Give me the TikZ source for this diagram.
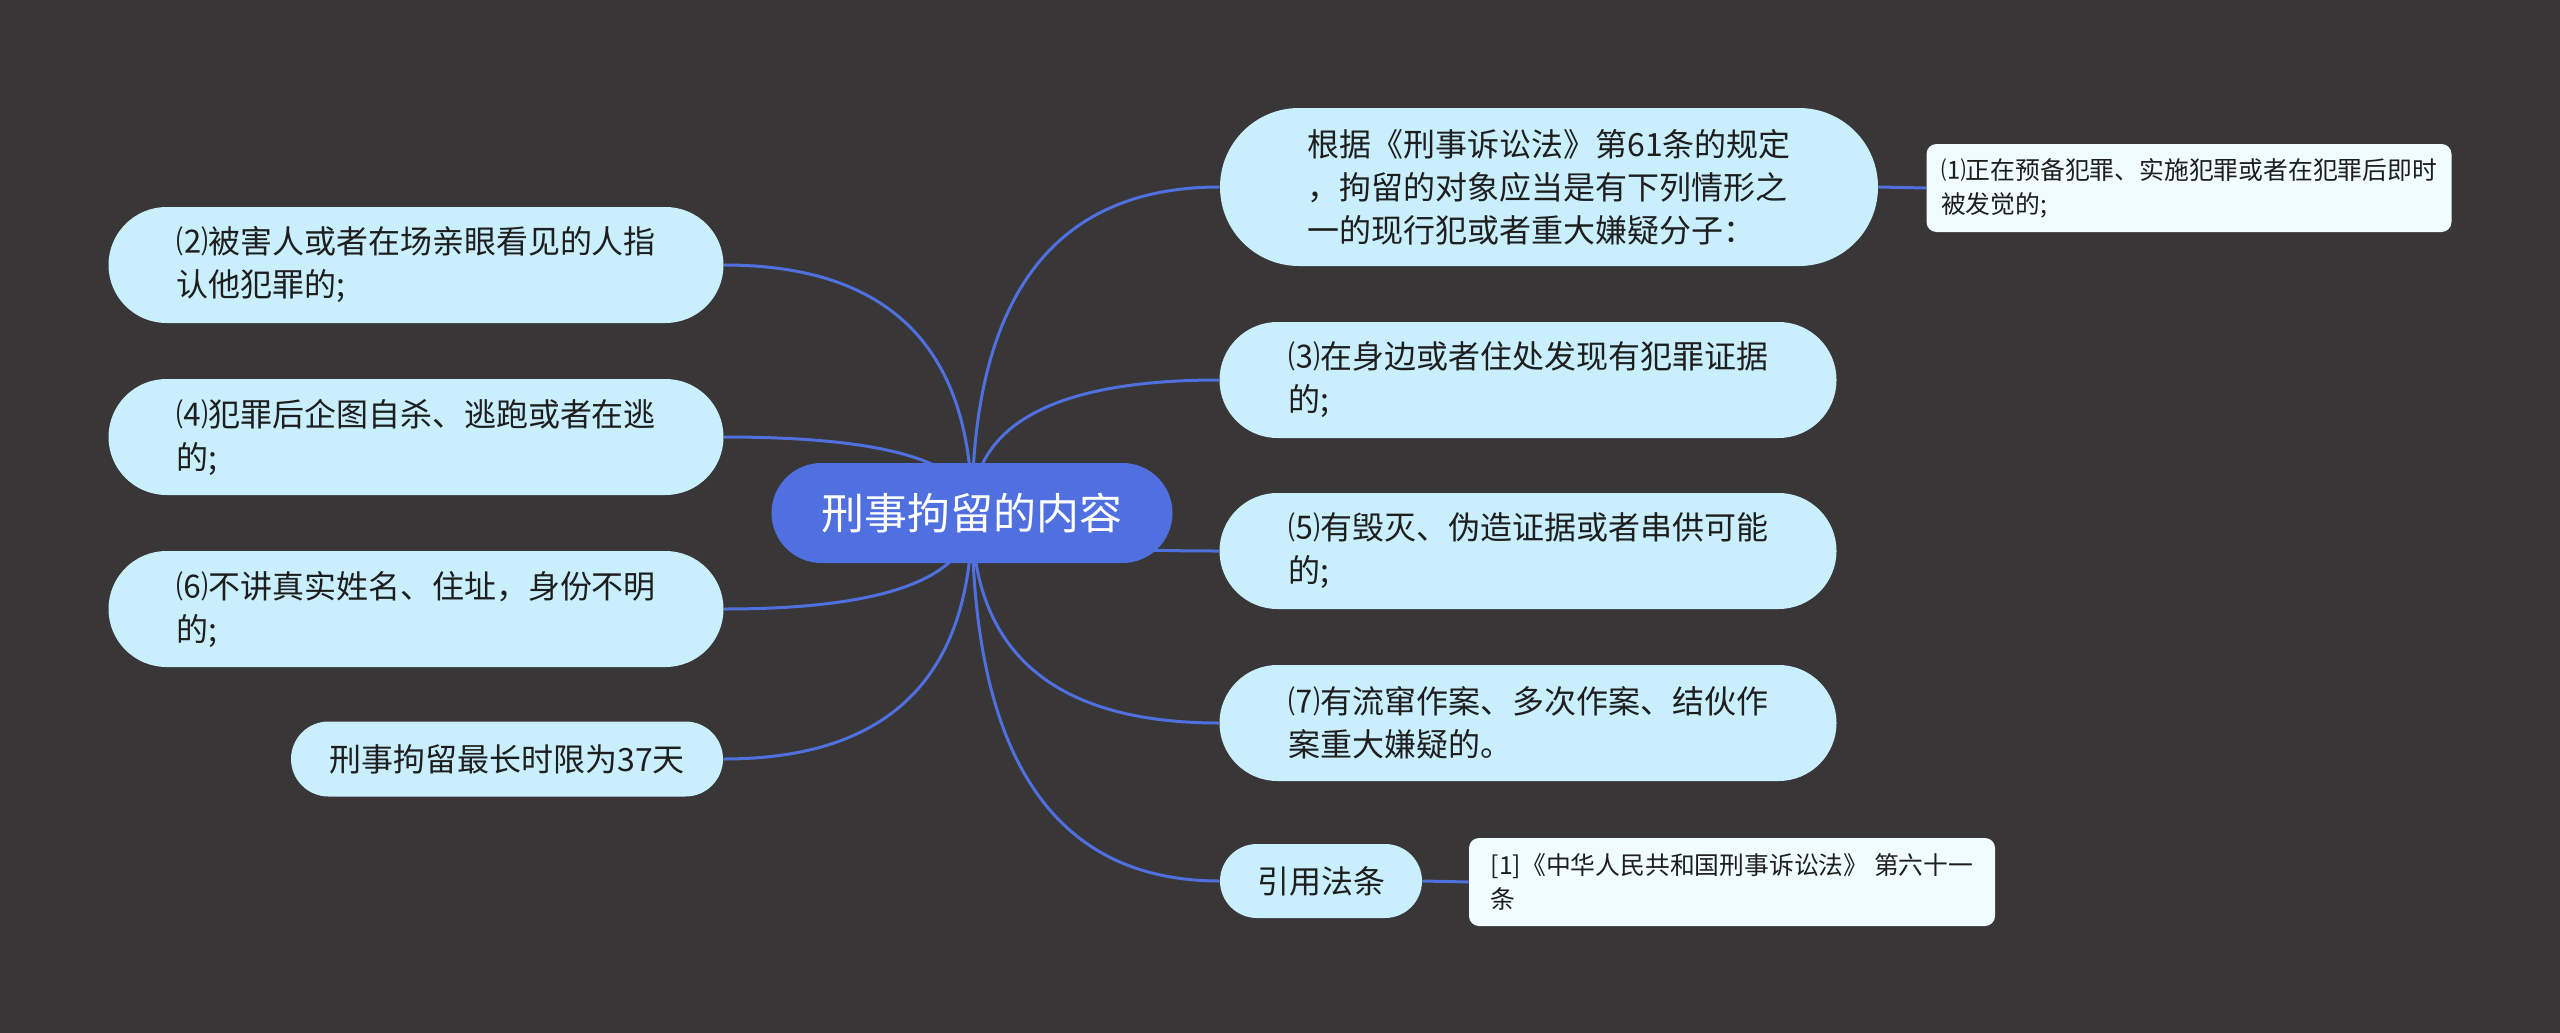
\documentclass[tikz,border=0pt]{standalone}
\usepackage{fontspec}
\setmainfont{Noto Sans CJK SC}
\usetikzlibrary{calc}
\definecolor{bgc}{RGB}{56,54,55}
\definecolor{rootc}{RGB}{80,112,224}
\definecolor{pillc}{RGB}{201,238,252}
\definecolor{leafc}{RGB}{240,252,255}
\definecolor{linec}{RGB}{80,112,224}
\definecolor{txtc}{RGB}{30,30,30}
\pgfdeclarelayer{bg}
\pgfsetlayers{bg,main}
\tikzset{
  rootbox/.style={fill=rootc, text=white, inner sep=0pt, minimum width=200.5pt, minimum height=50pt, rounded corners=25pt, font=\fontsize{21.5}{26}\selectfont},
  pillbig/.style={fill=pillc, text=txtc, inner sep=0pt, align=left, minimum height=58pt, rounded corners=29pt, font=\fontsize{16}{21.5}\selectfont},
  pillsmall/.style={fill=pillc, text=txtc, inner sep=0pt, align=left, minimum height=37pt, rounded corners=18.5pt, font=\fontsize{16}{21.5}\selectfont},
  leafbox/.style={fill=leafc, text=txtc, inner sep=0pt, align=left, minimum width=262.5pt, minimum height=44pt, rounded corners=5pt, font=\fontsize{12.4}{17}\selectfont},
  conn/.style={draw=linec, line width=1.5pt}
}
\newcommand\rootlink[2]{%
  \coordinate (q-#1) at (root.center |- #1.#2);
  \draw[conn] (root.center) .. controls ($(root.center)!0.6667!(q-#1)$) and ($(#1.#2)!0.6667!(q-#1)$) .. (#1.#2);
}
\begin{document}
\begin{tikzpicture}[x=0.5pt,y=-0.5pt]
\path[use as bounding box] (0,0) rectangle (2560,1033);
% nodes
\node[rootbox] (root) at (972,513) {刑事拘留的内容};
\node[pillbig, minimum width=329pt, minimum height=79pt, rounded corners=39.5pt] (r1) at (1549,187)
  {根据《刑事诉讼法》第61条的规定\\，拘留的对象应当是有下列情形之\\一的现行犯或者重大嫌疑分子：};
\node[pillbig, minimum width=308.5pt] (r2) at (1528,380) {⑶在身边或者住处发现有犯罪证据\\的;};
\node[pillbig, minimum width=308.5pt] (r3) at (1528,551) {⑸有毁灭、伪造证据或者串供可能\\的;};
\node[pillbig, minimum width=308.5pt] (r4) at (1528,723) {⑺有流窜作案、多次作案、结伙作\\案重大嫌疑的。};
\node[pillsmall, minimum width=101pt] (r5) at (1321,881) {引用法条};
\node[leafbox] (f1) at (2189,188) {⑴正在预备犯罪、实施犯罪或者在犯罪后即时\\被发觉的;};
\node[leafbox, minimum width=263pt] (f2) at (1732,882) {[1]《中华人民共和国刑事诉讼法》 第六十一\\条};
\node[pillbig, minimum width=307.5pt] (l1) at (416,265) {⑵被害人或者在场亲眼看见的人指\\认他犯罪的;};
\node[pillbig, minimum width=307.5pt] (l2) at (416,437) {⑷犯罪后企图自杀、逃跑或者在逃\\的;};
\node[pillbig, minimum width=307.5pt] (l3) at (416,609) {⑹不讲真实姓名、住址，身份不明\\的;};
\node[pillsmall, minimum width=216pt, minimum height=37.5pt, rounded corners=18.75pt] (l4) at (507,759) {刑事拘留最长时限为37天};
% background and connectors
\begin{pgfonlayer}{bg}
\fill[bgc] (0,0) rectangle (2560,1033);
\rootlink{r1}{west}
\rootlink{r2}{west}
\rootlink{r3}{west}
\rootlink{r4}{west}
\rootlink{r5}{west}
\rootlink{l1}{east}
\rootlink{l2}{east}
\rootlink{l3}{east}
\rootlink{l4}{east}
\draw[conn] (r1.east) -- (f1.west);
\draw[conn] (r5.east) -- (f2.west);
\end{pgfonlayer}
\end{tikzpicture}
\end{document}
